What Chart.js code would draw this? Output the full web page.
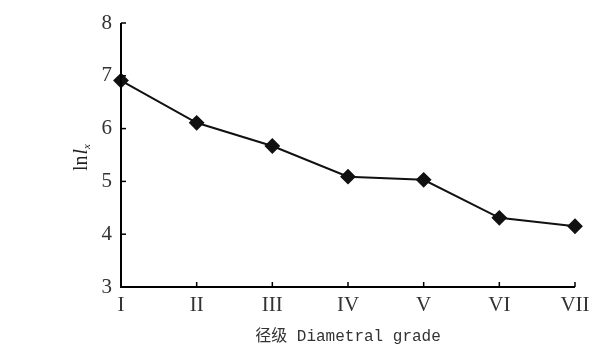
<!DOCTYPE html>
<html><head><meta charset="utf-8">
<script src="https://cdn.jsdelivr.net/npm/chart.js@4/dist/chart.umd.min.js"></script>
<style>html,body{margin:0;padding:0;background:#fff;}#wrap{width:610px;height:346px;}</style>
</head><body><div id="wrap"><canvas id="c" width="610" height="346"></canvas></div>
<script>
const categories = ['I','II','III','IV','V','VI','VII'];
const lnlx = [6.91, 6.11, 5.67, 5.09, 5.03, 4.31, 4.15];
const yTicks = [3,4,5,6,7,8];

const inwardTicks = {
  id:'inwardTicks',
  afterDraw(chart){
    const ctx = chart.ctx, x = chart.scales.x, y = chart.scales.y;
    const ca = chart.chartArea;
    ctx.save();
    ctx.strokeStyle = '#000'; ctx.lineWidth = 2;
    ctx.beginPath();
    ctx.moveTo(ca.left, ca.top); ctx.lineTo(ca.left, ca.bottom); ctx.lineTo(ca.right, ca.bottom);
    ctx.stroke();
    ctx.lineWidth = 1.5;
    y.ticks.forEach((t,i)=>{ const p = y.getPixelForTick(i); ctx.beginPath(); ctx.moveTo(ca.left, p); ctx.lineTo(ca.left+5, p); ctx.stroke(); });
    x.ticks.forEach((t,i)=>{ if(i===0) return; const p = x.getPixelForTick(i); ctx.beginPath(); ctx.moveTo(p, ca.bottom); ctx.lineTo(p, ca.bottom-5); ctx.stroke(); });
    // y axis title: ln l_x
    ctx.translate(80, 158);
    ctx.rotate(-Math.PI/2);
    ctx.fillStyle = '#222';
    ctx.textBaseline = 'alphabetic';
    const F = 20;
    ctx.font = F+'px "Liberation Serif", serif';
    const w1 = ctx.measureText('ln').width;
    ctx.font = 'italic '+F+'px "Liberation Serif", serif';
    const w2 = ctx.measureText('l').width;
    ctx.font = 'italic 11px "Liberation Serif", serif';
    const w3 = ctx.measureText('x').width;
    let sx = -(w1+w2+w3)/2;
    ctx.font = F+'px "Liberation Serif", serif';
    ctx.fillText('ln', sx, 7); sx += w1+1;
    ctx.font = 'italic '+F+'px "Liberation Serif", serif';
    ctx.fillText('l', sx, 7); sx += w2;
    ctx.font = 'italic 11px "Liberation Serif", serif';
    ctx.fillText('x', sx, 10);
    ctx.restore();
  }
};

new Chart(document.getElementById('c'), {
  type:'line',
  data:{ labels: categories, datasets:[{ data: lnlx, borderColor:'#111', backgroundColor:'#111', borderWidth:2,
    pointStyle:'rectRot', pointRadius:6.5, pointHoverRadius:6.5, tension:0 }]},
  options:{
    responsive:false, animation:false, devicePixelRatio:1,
    layout:{ padding:{ left:0, right:35, top:23, bottom:0 } },
    plugins:{ legend:{display:false}, tooltip:{enabled:false} },
    scales:{
      x:{ offset:false, grid:{display:false}, border:{display:false},
          ticks:{ color:'#333', font:{family:'"Liberation Serif", serif', size:21}, padding:-2, maxRotation:0 },
          title:{ display:true, text:'径级 Diametral grade', color:'#333', font:{family:'"Liberation Mono","Noto Sans CJK SC", monospace', size:16}, padding:{top:5,bottom:0} },
          afterFit(s){ s.height = 59; } },
      y:{ min:3, max:8, grid:{display:false}, border:{display:false},
          afterBuildTicks(s){ s.ticks = yTicks.map(v=>({value:v})); },
          ticks:{ color:'#333', font:{family:'"Liberation Serif", serif', size:21}, padding:1 },
          afterFit(s){ s.width = 121; } }
    }
  },
  plugins:[inwardTicks]
});
</script></body></html>
